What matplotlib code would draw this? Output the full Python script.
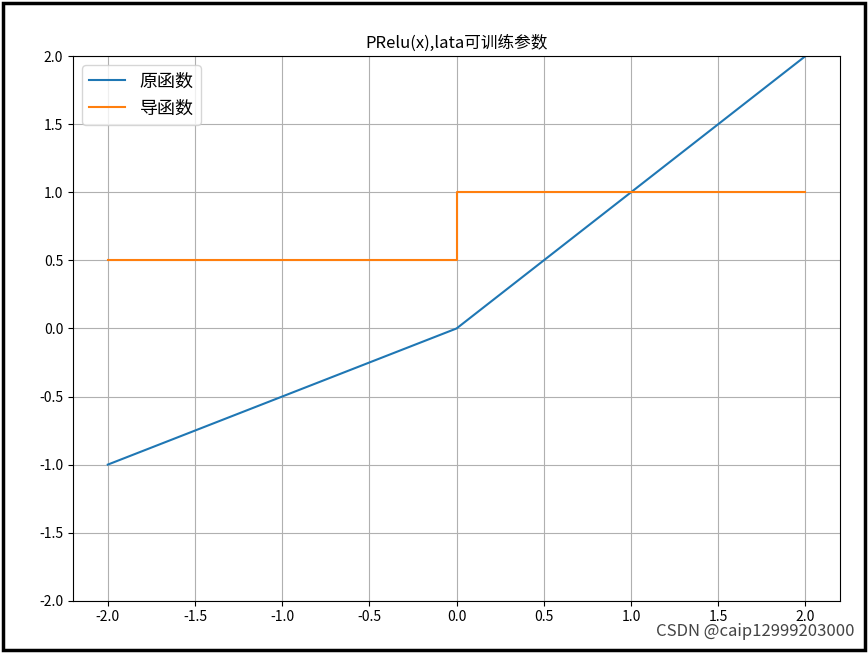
import matplotlib.pyplot as plt
from matplotlib.patches import Rectangle

plt.rcParams['font.family'] = ['Noto Sans CJK SC', 'DejaVu Sans']
plt.rcParams['axes.unicode_minus'] = False

# PRelu with a = 0.5
x_f = [-2.0, 0.0, 2.0]
y_f = [-1.0, 0.0, 2.0]
x_d = [-2.0, 0.0, 0.0, 2.0]
y_d = [0.5, 0.5, 1.0, 1.0]
ticks = [-2.0, -1.5, -1.0, -0.5, 0.0, 0.5, 1.0, 1.5, 2.0]

fig = plt.figure(figsize=(8.68, 6.53), dpi=100)
ax = fig.add_axes([0.084, 0.08, 0.884, 0.834])
ax.plot(x_f, y_f, label='原函数')
ax.plot(x_d, y_d, label='导函数')
ax.set_xlim(-2.2, 2.2)
ax.set_ylim(-2.0, 2.0)
ax.set_xticks(ticks)
ax.set_yticks(ticks)
ax.set_xticklabels([f'{t:.1f}' for t in ticks])
ax.set_yticklabels([f'{t:.1f}' for t in ticks])
ax.grid(True)
ax.set_title('PRelu(x),lata可训练参数', fontsize=12)
ax.legend(loc='upper left', fontsize=13)

fig.patches.append(Rectangle((0.003, 0.004), 0.994, 0.992, transform=fig.transFigure,
                             fill=False, edgecolor='black', linewidth=2.5))
fig.text(0.985, 0.02, 'CSDN @caip12999203000', ha='right', va='bottom',
         fontsize=12, color='#444444')

fig.savefig('out.png', dpi=100)
